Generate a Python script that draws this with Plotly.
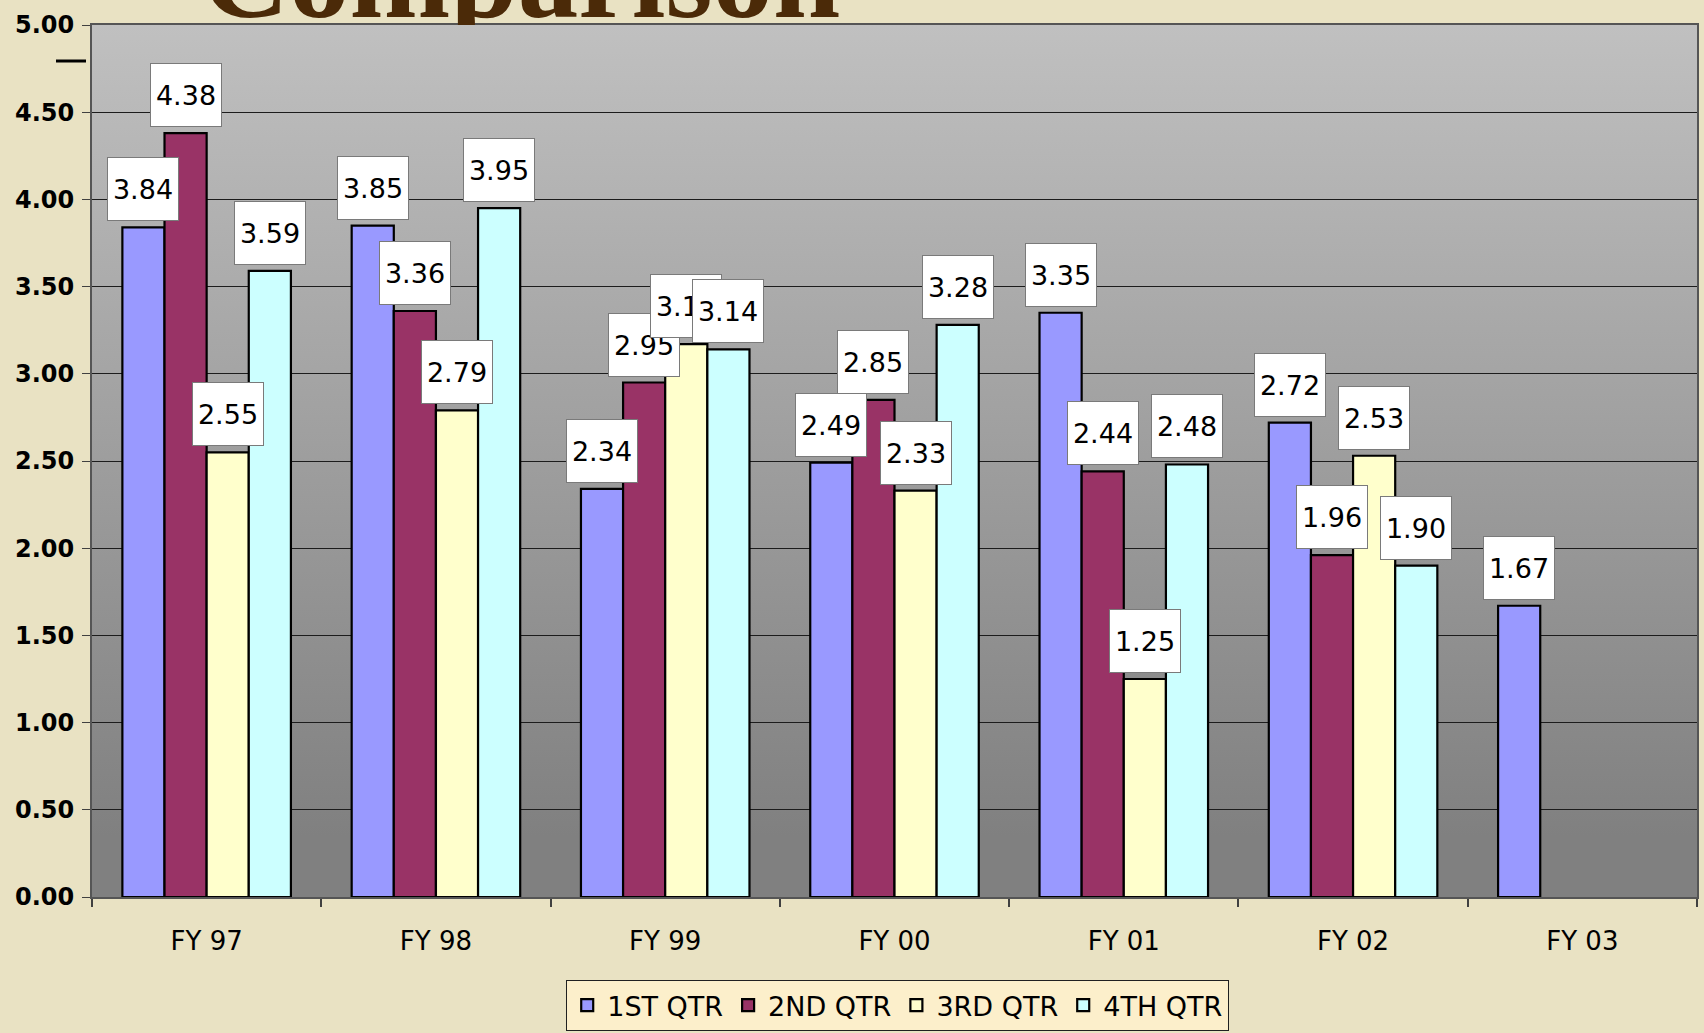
import urllib.parse
import plotly.graph_objects as go

# ---------------- data ----------------
categories = ["FY 97", "FY 98", "FY 99", "FY 00", "FY 01", "FY 02", "FY 03"]
series_names = ["1ST QTR", "2ND QTR", "3RD QTR", "4TH QTR"]
qtr1 = [3.84, 3.85, 2.34, 2.49, 3.35, 2.72, 1.67]
qtr2 = [4.38, 3.36, 2.95, 2.85, 2.44, 1.96, None]
qtr3 = [2.55, 2.79, 3.17, 2.33, 1.25, 2.53, None]
qtr4 = [3.59, 3.95, 3.14, 3.28, 2.48, 1.90, None]
y_tick_values = [0.0, 0.5, 1.0, 1.5, 2.0, 2.5, 3.0, 3.5, 4.0, 4.5, 5.0]
title_text = "Comparison"

# ---------------- style / layout constants ----------------
colors = ["#9999FF", "#993366", "#FFFFCC", "#CCFFFF"]
BARGAP = 0.265
LABEL_FONT = dict(family="DejaVu Sans", size=27, color="black")
W, H = 1704, 1033
ML, MR, MB = 92, 7, 136
PLOT_TOP = 25                      # px from top where the plot area starts
PAPER_H = H - MB                   # paper height (top margin = 0)
MAIN_TOP = (PAPER_H - PLOT_TOP) / PAPER_H

fig = go.Figure()
all_series = [qtr1, qtr2, qtr3, qtr4]
for name, vals, col in zip(series_names, all_series, colors):
    fig.add_trace(go.Bar(
        name=name, x=categories, y=vals,
        marker=dict(color=col, line=dict(color="black", width=2.2)),
        hoverinfo="x+y",
    ))

# slide title, clipped to the strip above the plot area
fig.add_trace(go.Scatter(
    x=[521], y=[0], mode="text", text=[title_text], textposition="top center",
    textfont=dict(family="Liberation Serif", size=121, color="#4B2A08", weight="bold"),
    xaxis="x2", yaxis="y2", showlegend=False, hoverinfo="skip", cliponaxis=True,
))

# value label boxes (drawn series by series, later series on top)
n = len(all_series)
w = (1 - BARGAP) / n
annotations = []
for i, vals in enumerate(all_series):
    for j, v in enumerate(vals):
        if v is None:
            continue
        annotations.append(dict(
            x=j + (i - (n - 1) / 2) * w, y=v, xref="x", yref="y",
            text=f"{v:.2f}", showarrow=False, yanchor="bottom", yshift=6,
            bgcolor="white", bordercolor="#7a7a7a", borderwidth=1, borderpad=0,
            width=70, height=62, font=LABEL_FONT,
        ))

# gradient plot-area background (style only)
svg = ('<svg xmlns="http://www.w3.org/2000/svg" width="100" height="100" '
       'viewBox="0 0 100 100" preserveAspectRatio="none"><defs>'
       '<linearGradient id="g" x1="0" y1="0" x2="0" y2="1">'
       '<stop offset="0" stop-color="rgb(192,192,192)"/>'
       '<stop offset="0.93" stop-color="rgb(128,128,128)"/>'
       '<stop offset="1" stop-color="rgb(128,128,128)"/>'
       '</linearGradient></defs>'
       '<rect x="0" y="0" width="100" height="100" fill="url(#g)"/></svg>')
src = "data:image/svg+xml;charset=utf-8," + urllib.parse.quote(svg)

fig.update_layout(
    width=W, height=H, autosize=False,
    margin=dict(l=ML, r=MR, t=0, b=MB, pad=0, autoexpand=False),
    paper_bgcolor="#E9E2C3",
    plot_bgcolor="rgba(0,0,0,0)",
    barmode="group", bargap=BARGAP, bargroupgap=0,
    annotations=annotations,
    images=[dict(source=src, xref="x domain", yref="y domain", x=0, y=1,
                 sizex=1, sizey=1, xanchor="left", yanchor="top",
                 sizing="stretch", layer="below")],
    shapes=[dict(type="line", xref="paper", yref="paper",
                 x0=(56 - ML) / (W - ML - MR), x1=(86 - ML) / (W - ML - MR),
                 y0=(PAPER_H - 61) / PAPER_H, y1=(PAPER_H - 61) / PAPER_H,
                 line=dict(color="black", width=3))],
    showlegend=True,
    legend=dict(
        orientation="h", x=0.502, xanchor="center",
        y=-(980 - PAPER_H) / PAPER_H, yanchor="top",
        bgcolor="#FCEFCB", bordercolor="#202020", borderwidth=1,
        font=dict(family="DejaVu Sans", size=27, color="black"),
        itemwidth=30, traceorder="normal",
    ),
    xaxis=dict(
        type="category", tickson="boundaries", ticks="outside", ticklen=8,
        tickcolor="#404040", tickwidth=1.5,
        showline=True, linecolor="#555555", linewidth=2, mirror=True,
        tickfont=dict(family="DejaVu Sans", size=26, color="black"),
        ticklabelstandoff=20, showgrid=False,
    ),
    yaxis=dict(
        domain=[0, MAIN_TOP],
        range=[0, 5], tickmode="array", tickvals=y_tick_values,
        tickformat=".2f", ticks="outside", ticklen=8, tickcolor="#404040",
        showline=True, linecolor="#555555", linewidth=2, mirror=True,
        showgrid=True, gridcolor="#1c1c1c", gridwidth=1, zeroline=False,
        tickfont=dict(family="DejaVu Sans", size=24, color="black", weight="bold"),
        ticklabelstandoff=3,
    ),
    xaxis2=dict(domain=[0, 1], range=[ML, W - MR], anchor="y2",
                visible=False, fixedrange=True),
    yaxis2=dict(domain=[MAIN_TOP, 1], range=[22, 47], anchor="x2",
                visible=False, fixedrange=True),
)

fig.write_html("out.html", config={"displayModeBar": False},
               post_script="document.body.style.margin='0';")
